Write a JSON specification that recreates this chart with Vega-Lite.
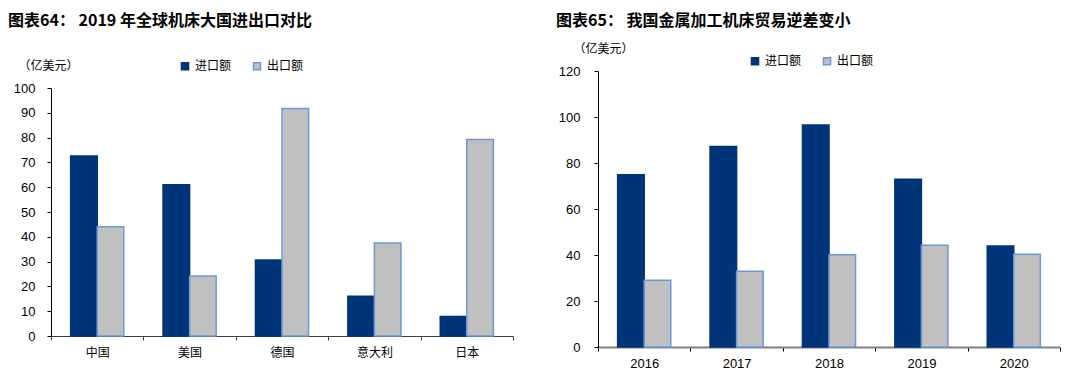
{
  "$schema": "https://vega.github.io/schema/vega-lite/v6.json",
  "padding": {"left": 8, "top": 13, "right": 5, "bottom": 5},
  "spacing": 42,
  "background": "white",
  "config": {
    "view": {"stroke": null},
    "axis": {"grid": false, "labelColor": "#000000", "tickColor": "#000000", "domainColor": "#000000"},
    "title": {"anchor": "start", "frame": "group", "font": "Noto Sans CJK SC", "fontSize": 16, "fontWeight": "bold", "color": "#000000"},
    "legend": {"labelFont": "Noto Sans CJK SC", "labelFontSize": 12, "labelColor": "#000000", "symbolType": "square", "symbolSize": 50, "symbolStrokeWidth": 1.5, "labelOffset": 4, "columnPadding": 18, "title": null}
  },
  "datasets": {
    "countries": [
      {"country": "中国", "type": "进口额", "value": 72.6},
      {"country": "中国", "type": "出口额", "value": 44.1},
      {"country": "美国", "type": "进口额", "value": 61.0},
      {"country": "美国", "type": "出口额", "value": 24.2},
      {"country": "德国", "type": "进口额", "value": 30.6},
      {"country": "德国", "type": "出口额", "value": 91.7},
      {"country": "意大利", "type": "进口额", "value": 16.0},
      {"country": "意大利", "type": "出口额", "value": 37.5},
      {"country": "日本", "type": "进口额", "value": 7.9},
      {"country": "日本", "type": "出口额", "value": 79.2}
    ],
    "years": [
      {"year": "2016", "type": "进口额", "value": 74.9},
      {"year": "2016", "type": "出口额", "value": 29.0},
      {"year": "2017", "type": "进口额", "value": 87.2},
      {"year": "2017", "type": "出口额", "value": 32.9},
      {"year": "2018", "type": "进口额", "value": 96.5},
      {"year": "2018", "type": "出口额", "value": 40.1},
      {"year": "2019", "type": "进口额", "value": 72.9},
      {"year": "2019", "type": "出口额", "value": 44.2},
      {"year": "2020", "type": "进口额", "value": 43.9},
      {"year": "2020", "type": "出口额", "value": 40.3}
    ]
  },
  "hconcat": [
    {
      "width": 462,
      "height": 276,
      "title": {"text": "图表64：  2019 年全球机床大国进出口对比", "dx": -43, "offset": 30},
      "data": {"name": "countries"},
      "mark": {"type": "bar", "strokeWidth": 1.5},
      "encoding": {
        "x": {
          "field": "country", "type": "nominal",
          "sort": ["中国", "美国", "德国", "意大利", "日本"],
          "scale": {"paddingInner": 0, "paddingOuter": 0},
          "axis": {"title": null, "labelAngle": 0, "tickBand": "extent", "tickSize": 4, "labelPadding": 7, "offset": -11,
                   "labelFont": "Noto Sans CJK SC", "labelFontSize": 12, "domainColor": "#404040", "tickColor": "#404040"}
        },
        "xOffset": {"field": "type", "type": "nominal", "sort": ["进口额", "出口额"], "scale": {"paddingInner": 0, "paddingOuter": 0.74}},
        "y": {
          "field": "value", "type": "quantitative",
          "scale": {"domain": [0, 100], "nice": false, "range": [265, 17]},
          "axis": {"values": [0, 10, 20, 30, 40, 50, 60, 70, 80, 90, 100], "tickSize": 4, "labelPadding": 12,
                   "labelFont": "Liberation Sans", "labelFontSize": 13,
                   "title": "（亿美元）", "titleAngle": 0, "titleX": -3, "titleY": -6, "titleAlign": "center", "titleBaseline": "middle",
                   "titleFont": "Noto Sans CJK SC", "titleFontSize": 12, "titleFontWeight": "normal", "titleColor": "#000000"}
        },
        "color": {
          "field": "type", "type": "nominal",
          "scale": {"domain": ["进口额", "出口额"], "range": ["#003478", "#C0C0C0"]},
          "legend": {"orient": "none", "direction": "horizontal", "legendX": 128, "legendY": -11}
        },
        "stroke": {
          "field": "type", "type": "nominal",
          "scale": {"domain": ["进口额", "出口额"], "range": ["#003478", "#6A9AD6"]},
          "legend": {"orient": "none", "direction": "horizontal", "legendX": 128, "legendY": -11}
        }
      }
    },
    {
      "width": 462,
      "height": 276,
      "title": {"text": "图表65：  我国金属加工机床贸易逆差变小", "dx": -42, "offset": 13},
      "data": {"name": "years"},
      "mark": {"type": "bar", "strokeWidth": 1.5},
      "encoding": {
        "x": {
          "field": "year", "type": "nominal",
          "scale": {"paddingInner": 0, "paddingOuter": 0},
          "axis": {"title": null, "labelAngle": 0, "tickBand": "extent", "tickSize": 4, "labelPadding": 6,
                   "labelFont": "Liberation Sans", "labelFontSize": 13, "domainColor": "#808080", "domainWidth": 2, "tickColor": "#000000"}
        },
        "xOffset": {"field": "type", "type": "nominal", "sort": ["进口额", "出口额"], "scale": {"paddingInner": 0, "paddingOuter": 0.74}},
        "y": {
          "field": "value", "type": "quantitative",
          "scale": {"domain": [0, 120], "nice": false},
          "axis": {"values": [0, 20, 40, 60, 80, 100, 120], "tickSize": 4, "labelPadding": 14,
                   "labelFont": "Liberation Sans", "labelFontSize": 13,
                   "title": "（亿美元）", "titleAngle": 0, "titleX": 5, "titleY": -23, "titleAlign": "center", "titleBaseline": "middle",
                   "titleFont": "Noto Sans CJK SC", "titleFontSize": 12, "titleFontWeight": "normal", "titleColor": "#000000"}
        },
        "color": {
          "field": "type", "type": "nominal",
          "scale": {"domain": ["进口额", "出口额"], "range": ["#003478", "#C0C0C0"]},
          "legend": {"orient": "none", "direction": "horizontal", "legendX": 151, "legendY": -16}
        },
        "stroke": {
          "field": "type", "type": "nominal",
          "scale": {"domain": ["进口额", "出口额"], "range": ["#003478", "#6A9AD6"]},
          "legend": {"orient": "none", "direction": "horizontal", "legendX": 151, "legendY": -16}
        }
      }
    }
  ],
  "resolve": {"scale": {"color": "independent", "stroke": "independent", "y": "independent", "x": "independent", "xOffset": "independent"}}
}
